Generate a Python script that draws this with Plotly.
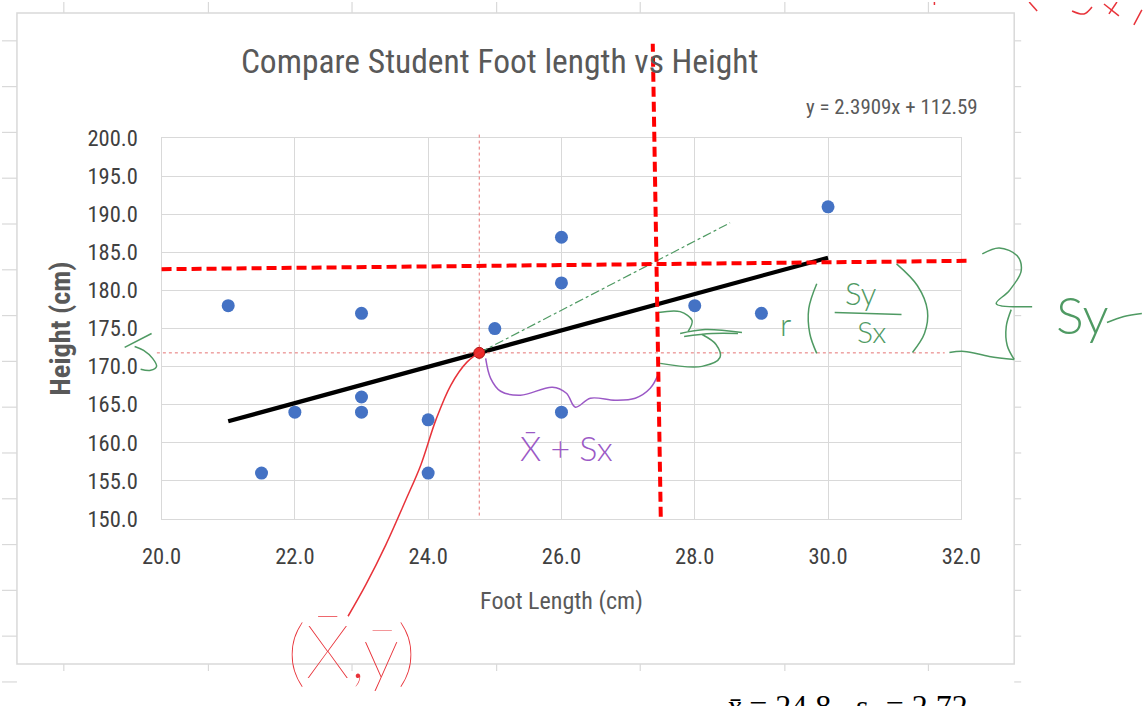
import numpy as np
import plotly.graph_objects as go

# ---------------- data ----------------
foot_length = [21, 21.5, 22, 23, 23, 23, 24, 24, 25, 26, 26, 26, 28, 29, 30]
height_cm = [178, 156, 164, 177, 166, 164, 163, 156, 175, 187, 181, 164, 178, 177, 191]
slope, intercept = 2.3909, 112.59
x_ticks = [20, 22, 24, 26, 28, 30, 32]
y_ticks = [150, 155, 160, 165, 170, 175, 180, 185, 190, 195, 200]
x_range = [20, 32]
y_range = [150, 200]

# hand-drawn guide lines (data units)
red_v_x = [27.49, 27.37]      # x-bar + s_x (drawn by hand, slightly tilted): bottom, top
red_h_x = [20.0, 32.1]        # y-bar + s_y
red_h_y = [182.8, 183.9]
green_end = [28.53, 188.9]    # end of the sy/sx slope sketch

xbar = float(np.mean(foot_length))
ybar = float(np.mean(height_cm))
sx = float(np.std(foot_length, ddof=1))

# ---------------- geometry ----------------
# the viewer shows the page slightly scaled; lay out in screen pixels
AX, AY, KX, KY = 0.0, 0.0, 0.969, 0.969
WF, HF = 1188, 736

def fx(s):
    return (s - AX) / KX

def fy(s):
    return (s - AY) / KY

def paper_x(s):
    return fx(s) / WF

def paper_y(s):
    return 1 - fy(s) / HF

PL, PR, PT, PB = 160, 962, 137, 519          # plot area, screen pixels
xd = [paper_x(PL), paper_x(PR)]
yd = [paper_y(PB), paper_y(PT)]
ux = (x_range[1] - x_range[0]) / (xd[1] - xd[0])
uy = (y_range[1] - y_range[0]) / (yd[1] - yd[0])
x2_range = [x_range[0] - xd[0] * ux, x_range[1] + (1 - xd[1]) * ux]
y2_range = [y_range[0] - yd[0] * uy, y_range[1] + (1 - yd[1]) * uy]
x3_range = [AX, AX + KX * WF]
y3_range = [AY + KY * HF, AY]

FONT = "Roboto Condensed, Liberation Sans Narrow, Roboto, sans-serif"
GREY = "#595959"
GRID = "#d9d9d9"
RED_INK = "#e8333a"
GREEN_INK = "#4f9a63"
PURPLE_INK = "#9b59c6"

fig = go.Figure()

# main scatter
fig.add_trace(go.Scatter(
    x=foot_length, y=height_cm, mode="markers",
    marker=dict(color="#4472C4", size=13),
    xaxis="x", yaxis="y", showlegend=False, hoverinfo="x+y"))

# linear trendline
tx = [min(foot_length), max(foot_length)]
ty = [slope * v + intercept for v in tx]
fig.add_trace(go.Scatter(
    x=tx, y=ty, mode="lines", line=dict(color="black", width=4.2),
    xaxis="x", yaxis="y", showlegend=False, hoverinfo="skip"))

# ---- overlay (extended data coords) ----
def ov(x, y, **line):
    fig.add_trace(go.Scatter(x=x, y=y, mode="lines", line=line,
                             xaxis="x2", yaxis="y2", showlegend=False,
                             hoverinfo="skip"))

ov([xbar, xbar], [200.5, 150], color="#e57373", width=1, dash="dot")
ov([19.93, 31.75], [ybar, ybar], color="#e57373", width=1, dash="dot")
ov([xbar, green_end[0]], [ybar, green_end[1]], color=GREEN_INK, width=1.2, dash="dashdot")
ov(red_h_x, red_h_y, color="#ff0000", width=4, dash="10px,5px")
fig.add_trace(go.Scatter(x=[xbar], y=[ybar], mode="markers",
                         marker=dict(color="#ee2a2a", size=11,
                                     line=dict(color="#b01818", width=1)),
                         xaxis="x2", yaxis="y2", showlegend=False,
                         hoverinfo="skip"))

# ---- ink strokes (screen pixels) ----
ink = {
    "red_curve": ([(482, 350), (466, 362), (450, 385), (435, 420), (420, 465),
                   (405, 500), (385, 545), (365, 585), (347, 617)], RED_INK),
    "purple_brace": ([(485, 358), (490, 378), (500, 391), (520, 395), (552, 387),
                      (566, 393), (575, 407), (590, 398), (615, 400), (635, 398),
                      (650, 388), (659, 372)], PURPLE_INK),
    "g_brace_top": ([(658, 312), (680, 311), (692, 320), (688, 331)], GREEN_INK),
    "g_brace_tip": ([(680, 333), (705, 329), (742, 332)], GREEN_INK),
    "g_brace_tip2": ([(684, 336), (712, 333), (738, 333)], GREEN_INK),
    "g_brace_bot": ([(702, 334), (716, 344), (720, 357), (702, 366), (660, 363)], GREEN_INK),
    "g_paren_l": ([(817, 283), (809, 308), (810, 333), (817, 353)], GREEN_INK),
    "g_paren_r": ([(897, 263), (918, 285), (928, 310), (925, 333), (913, 352)], GREEN_INK),
    "g_frac": ([(835, 312), (902, 314)], GREEN_INK),
    "g_big_top": ([(983, 253), (1000, 247), (1018, 255), (1022, 270), (1010, 290),
                   (997, 303), (1033, 306)], GREEN_INK),
    "g_big_bot": ([(1012, 309), (1007, 326), (1008, 345), (1015, 359)], GREEN_INK),
    "g_big_tail": ([(1015, 359), (990, 356), (965, 351), (950, 352)], GREEN_INK),
    "g_sy_tail": ([(1108, 322), (1125, 316), (1143, 313)], GREEN_INK),
    "g_ybar_bar": ([(123, 347), (150, 333)], GREEN_INK),
    "g_ybar_hook": ([(133, 346), (142, 350), (151, 358), (155, 366), (149, 370),
                     (139, 369)], GREEN_INK),
    "r_top_tick": ([(935, 0), (935, 3)], RED_INK),
    "r_top_paren": ([(1030, 0), (1038, 9)], RED_INK),
    "r_top_s": ([(1073, 9), (1085, 12), (1093, 5)], RED_INK),
    "r_top_x1": ([(1105, 2), (1120, 14)], RED_INK),
    "r_top_x2": ([(1110, 12), (1118, 0)], RED_INK),
    "r_top_slash": ([(1135, 23), (1143, 8)], RED_INK),
}
for name, (pts, col) in ink.items():
    fig.add_trace(go.Scatter(
        x=[p[0] for p in pts], y=[p[1] for p in pts], mode="lines",
        line=dict(color=col, width=1.5, shape="spline", smoothing=1.0),
        xaxis="x3", yaxis="y3", showlegend=False, hoverinfo="skip", name=name))

# ---- shapes ----
shapes = []
# x-bar + s_x guide: data x on the main axis, spans above the plot (paper y)
shapes.append(dict(type="line", xref="x", yref="paper",
                   x0=red_v_x[0], x1=red_v_x[1], y0=paper_y(517), y1=paper_y(42),
                   line=dict(color="#ff0000", width=4, dash="10px,5px")))
# spreadsheet frame & chart border (screen pixels)
box = (15, 11, 1015, 665)
cols = [62, 207, 351, 496, 640, 785, 929]
rows = [39 + 46 * i for i in range(15)]
for c in cols:
    shapes.append(dict(type="line", xref="x3", yref="y3", x0=c, x1=c, y0=0, y1=box[1],
                       line=dict(color=GRID, width=1.2), layer="below"))
    shapes.append(dict(type="line", xref="x3", yref="y3", x0=c, x1=c, y0=box[3], y1=box[3] + 7,
                       line=dict(color=GRID, width=1.2), layer="below"))
for r in rows:
    if r < 706:
        shapes.append(dict(type="line", xref="x3", yref="y3", x0=0, x1=box[0], y0=r, y1=r,
                           line=dict(color=GRID, width=1.2), layer="below"))
        shapes.append(dict(type="line", xref="x3", yref="y3", x0=box[2], x1=box[2] + 7, y0=r, y1=r,
                           line=dict(color=GRID, width=1.2), layer="below"))
shapes.append(dict(type="rect", xref="x3", yref="y3", x0=box[0], y0=box[1], x1=box[2], y1=box[3],
                   line=dict(color=GRID, width=1.5), layer="below"))

# ---- text ----
ann = []
ann.append(dict(x=paper_x(892), y=paper_y(105), xref="paper", yref="paper",
                text=f"y = {slope}x + {intercept}", showarrow=False,
                font=dict(family=FONT, size=20.9, color=GREY),
                xanchor="center", yanchor="middle"))
ann.append(dict(x=paper_x(847), y=paper_y(687), xref="paper", yref="paper",
                text=f"<i>x\u0304</i> = {xbar:.1f},  <i>s</i><sub><i>x</i></sub> = {sx:.2f}",
                showarrow=False,
                font=dict(family="Liberation Serif, Times New Roman, serif", size=32, color="black"),
                xanchor="center", yanchor="top"))

HAND = "Lato, Roboto, sans-serif"
def hand(x, y, text, size, color, weight=200):
    ann.append(dict(x=paper_x(x), y=paper_y(y), xref="paper", yref="paper", text=text,
                    showarrow=False, xanchor="center", yanchor="middle",
                    font=dict(family=HAND, size=size, color=color, weight=weight)))

hand(350, 650, "(X\u0304,y\u0304)", 74, RED_INK, 200)
hand(566, 447, "X\u0304 + Sx", 34, PURPLE_INK, 300)
hand(786, 323, "r", 32, GREEN_INK, 300)
hand(861, 292, "Sy", 31, GREEN_INK, 300)
hand(872, 330, "Sx", 30, GREEN_INK, 300)
hand(1083, 313, "Sy", 52, GREEN_INK, 300)

axis_common = dict(showgrid=True, gridcolor=GRID, gridwidth=1.4, zeroline=False,
                   showline=True, linecolor=GRID, linewidth=1.4, mirror=True,
                   ticks="", tickformat=".1f",
                   tickfont=dict(family=FONT, size=22.5, color="#404040"))

fig.update_layout(
    width=WF, height=HF, autosize=False,
    margin=dict(l=0, r=0, t=0, b=0, pad=0),
    paper_bgcolor="white", plot_bgcolor="rgba(0,0,0,0)",
    title=dict(text="Compare Student Foot length vs Height", x=paper_x(499), y=paper_y(70),
               xanchor="center", yanchor="middle", xref="paper", yref="container",
               font=dict(family=FONT, size=33.5, color=GREY)),
    xaxis=dict(domain=xd, range=x_range, tickvals=x_ticks, anchor="y",
               ticklabelstandoff=17,
               title=dict(text="Foot Length (cm)", standoff=24,
                          font=dict(family=FONT, size=24, color=GREY)),
               **axis_common),
    yaxis=dict(domain=yd, range=y_range, tickvals=y_ticks, anchor="x",
               ticklabelstandoff=18,
               title=dict(text="<b>Height (cm)</b>", standoff=8,
                          font=dict(family=FONT, size=28.4, color=GREY)),
               **axis_common),
    xaxis2=dict(domain=[0, 1], range=x2_range, visible=False, anchor="y2", fixedrange=True),
    yaxis2=dict(domain=[0, 1], range=y2_range, visible=False, anchor="x2", fixedrange=True),
    xaxis3=dict(domain=[0, 1], range=x3_range, visible=False, anchor="y3", fixedrange=True),
    yaxis3=dict(domain=[0, 1], range=y3_range, visible=False, anchor="x3", fixedrange=True),
    shapes=shapes, annotations=ann, showlegend=False,
)

fig.write_html(
    "out.html",
    config={"displayModeBar": False},
    post_script=("document.body.style.margin='0px';"
                 "var gd=document.getElementById('{plot_id}');"
                 "gd.style.position='absolute';gd.style.left='-18.4px';gd.style.top='-10.9px';"),
)
